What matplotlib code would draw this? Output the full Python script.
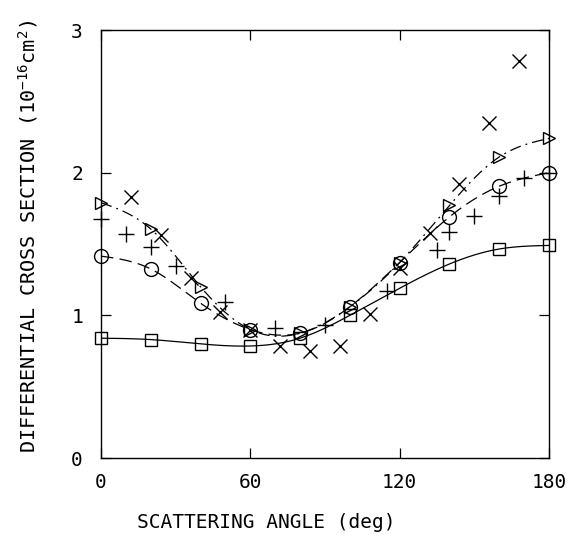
import numpy as np
import matplotlib
matplotlib.use("Agg")
import matplotlib.pyplot as plt

# ---- data ----
angles = [0, 20, 40, 60, 80, 100, 120, 140, 160, 180]
squares = [0.84, 0.83, 0.80, 0.785, 0.84, 1.00, 1.19, 1.36, 1.465, 1.49]
circles = [1.415, 1.325, 1.085, 0.90, 0.875, 1.06, 1.37, 1.69, 1.905, 2.00]
triangles = [1.79, 1.605, 1.20, 0.90, 0.875, 1.06, 1.37, 1.77, 2.11, 2.24]

plus_x = [0, 10, 20, 30, 50, 70, 90, 115, 135, 140, 150, 160, 170, 180]
plus_y = [1.675, 1.57, 1.48, 1.345, 1.09, 0.91, 0.93, 1.17, 1.46, 1.585, 1.695, 1.835, 1.96, 2.00]

cross_x = [12, 24, 36, 48, 60, 72, 84, 96, 108, 120, 132, 144, 156, 168]
cross_y = [1.83, 1.56, 1.26, 1.02, 0.90, 0.785, 0.75, 0.785, 1.01, 1.33, 1.58, 1.92, 2.35, 2.78]

xticks = [0, 60, 120, 180]
yticks = [0, 1, 2, 3]


def natural_spline(x, y, xs):
    x = np.asarray(x, float); y = np.asarray(y, float)
    n = len(x)
    h = np.diff(x)
    A = np.zeros((n, n)); b = np.zeros(n)
    A[0, 0] = A[-1, -1] = 1
    for i in range(1, n - 1):
        A[i, i - 1] = h[i - 1]
        A[i, i] = 2 * (h[i - 1] + h[i])
        A[i, i + 1] = h[i]
        b[i] = 3 * ((y[i + 1] - y[i]) / h[i] - (y[i] - y[i - 1]) / h[i - 1])
    c = np.linalg.solve(A, b)
    out = np.empty_like(xs)
    for k, xv in enumerate(xs):
        i = min(np.searchsorted(x, xv, side="right") - 1, n - 2)
        i = max(i, 0)
        bi = (y[i + 1] - y[i]) / h[i] - h[i] * (2 * c[i] + c[i + 1]) / 3
        di = (c[i + 1] - c[i]) / (3 * h[i])
        t = xv - x[i]
        out[k] = y[i] + bi * t + c[i] * t ** 2 + di * t ** 3
    return out


plt.rcParams["font.family"] = ["DejaVu Sans Mono"]
plt.rcParams["mathtext.fontset"] = "custom"
plt.rcParams["mathtext.rm"] = "DejaVu Sans Mono"
plt.rcParams["mathtext.it"] = "DejaVu Sans Mono"

fig = plt.figure(figsize=(5.72, 5.35), dpi=100)
ax = fig.add_axes([101 / 572, 77 / 535, 448 / 572, 428 / 535])

xs = np.linspace(0, 180, 361)
lw = 0.9
ax.plot(xs, natural_spline(angles, squares, xs), color="black", lw=lw, ls="-")
ax.plot(xs, natural_spline(angles, circles, xs), color="black", lw=lw, ls=(0, (10, 5)))
ax.plot(xs, natural_spline(angles, triangles, xs), color="black", lw=lw, ls=(0, (9, 4, 1.5, 4)))

mk = dict(color="black", ls="none", mfc="none", mec="black", mew=1.0, clip_on=False)
ax.plot(angles, squares, marker="s", ms=9, **mk)
ax.plot(angles, circles, marker="o", ms=10, **mk)
ax.plot(angles, triangles, marker=">", ms=9, **mk)
ax.plot(plus_x, plus_y, marker="+", ms=11, **mk)
ax.plot(cross_x, cross_y, marker="x", ms=10, **mk)

ax.set_xlim(0, 180)
ax.set_ylim(0, 3)
ax.set_xticks(xticks)
ax.set_yticks(yticks)
ax.tick_params(direction="in", length=7, width=0.9, top=True, right=True,
               labelsize=14, colors="black")
ax.tick_params(axis="x", pad=11)
ax.tick_params(axis="y", pad=13)
for s in ax.spines.values():
    s.set_linewidth(1.0)

fig.text(266 / 572, 1 - 522 / 535, "SCATTERING ANGLE (deg)", ha="center", va="center",
         fontsize=14)
fig.text(28 / 572, 1 - 236 / 535,
         r"DIFFERENTIAL CROSS SECTION (10$^{-16}$cm$^{2}$)",
         rotation=90, ha="center", va="center", fontsize=14.5)

fig.savefig("out.png", dpi=100)
